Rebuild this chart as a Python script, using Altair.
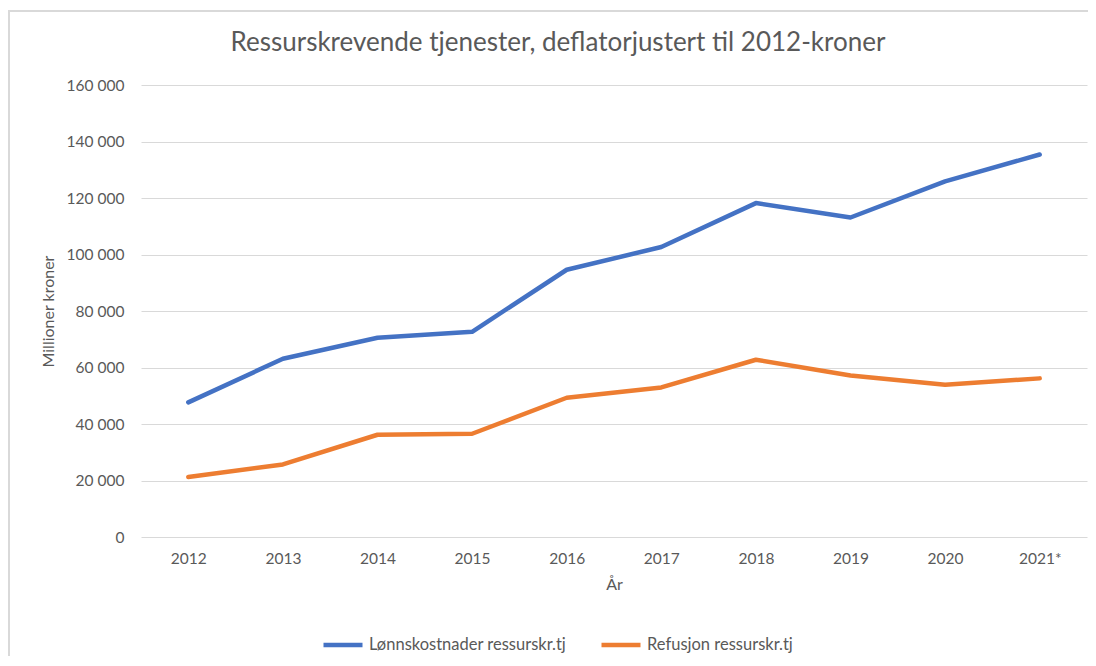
import altair as alt
import pandas as pd

years = ["2012", "2013", "2014", "2015", "2016", "2017", "2018", "2019", "2020", "2021*"]
lonn = [47650, 63100, 70550, 72650, 94600, 102650, 118200, 113100, 125900, 135400]
refusjon = [21250, 25700, 36200, 36550, 49300, 52950, 62750, 57200, 53900, 56150]
series_names = ["Lønnskostnader ressurskr.tj", "Refusjon ressurskr.tj"]
series_colors = ["#4472C4", "#ED7D31"]
y_ticks = [0, 20000, 40000, 60000, 80000, 100000, 120000, 140000, 160000]

rows = []
for i, y in enumerate(years):
    rows.append({"År": y, "Serie": series_names[0], "Verdi": lonn[i], "ord": i})
    rows.append({"År": y, "Serie": series_names[1], "Verdi": refusjon[i], "ord": i})
df = pd.DataFrame(rows)

FONT = "Lato"
GREY = "#595959"

lines = alt.Chart(df).mark_line(strokeWidth=4.5, strokeCap="round", strokeJoin="round").encode(
    x=alt.X("År:O", sort=years, scale=alt.Scale(type="point", padding=0.5),
            axis=alt.Axis(title="År", labelAngle=0, domain=False, ticks=False, grid=False,
                          labelPadding=14, titlePadding=10, labelFontSize=15.5,
                          titleFontSize=16)),
    y=alt.Y("Verdi:Q", scale=alt.Scale(domain=[0, 160000], nice=False),
            axis=alt.Axis(title="Millioner kroner", values=y_ticks, domain=False, ticks=False,
                          labelExpr="datum.value >= 1000 ? floor(datum.value/1000) + ' 000' : '0'",
                          labelPadding=17, titlePadding=10, labelFontSize=15.5, titleFontSize=16,
                          gridColor="#d9d9d9", gridWidth=1)),
    color=alt.Color("Serie:N", scale=alt.Scale(domain=series_names, range=series_colors),
                    legend=alt.Legend(title=None, orient="none", direction="horizontal",
                                      legendX=180, legendY=538, symbolType="stroke",
                                      symbolSize=1521, symbolStrokeWidth=4.5,
                                      labelFontSize=16.5, labelOffset=4, columnPadding=25,
                                      labelLimit=400, labelColor=GREY, labelFont=FONT)),
    order="ord:Q",
)

frame_src = pd.DataFrame({"a": [0]})
frame_top = alt.Chart(frame_src).mark_rule(stroke="#d9d9d9", strokeWidth=2).encode(
    x=alt.value(-133), x2=alt.value(1010), y=alt.value(-74)
)
frame_left = alt.Chart(frame_src).mark_rule(stroke="#d9d9d9", strokeWidth=2).encode(
    x=alt.value(-132), y=alt.value(-75), y2=alt.value(650)
)

chart = alt.layer(frame_top, frame_left, lines).properties(
    width=946, height=452,
    padding={"left": 133, "top": 77, "right": 1, "bottom": 119},
    autosize=alt.AutoSizeParams(type="none"),
    title=alt.TitleParams("Ressurskrevende  tjenester, deflatorjustert til 2012-kroner",
                          anchor="middle", frame="group", dx=-56, dy=47, offset=0, fontSize=26,
                          fontWeight="normal", color=GREY, font=FONT),
).configure_view(stroke=None).configure_axis(
    labelColor=GREY, titleColor=GREY, labelFont=FONT, titleFont=FONT, titleFontWeight="normal"
)

chart.save("out.html", embed_options={"renderer": "svg", "actions": False})
